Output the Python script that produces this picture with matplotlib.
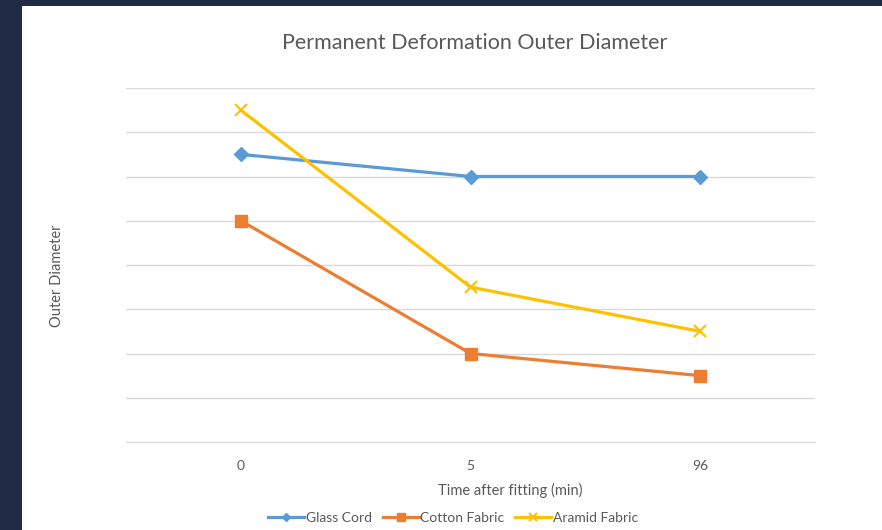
import matplotlib.pyplot as plt
from matplotlib.patches import Rectangle

plt.rcParams['font.family'] = ['Lato', 'DejaVu Sans']

time_labels = ['0', '5', '96']
glass_cord = [6.5, 6.0, 6.0]
cotton_fabric = [5.0, 2.0, 1.5]
aramid_fabric = [7.5, 3.5, 2.5]

TEXT = '#595959'
GRID = '#D9D9D9'

fig = plt.figure(figsize=(8.82, 5.30), dpi=100)
fig.patch.set_facecolor('#1F2A44')
# white chart area (dark frame on left and top)
fig.patches.append(Rectangle((22/882, 0), 1 - 22/882, 1 - 6/530,
                             transform=fig.transFigure, facecolor='white',
                             edgecolor='none', zorder=-10))

ax = fig.add_axes([126/882, 88/530, (815-126)/882, (442-88)/530])
ax.patch.set_alpha(0)
x = range(len(time_labels))
ax.plot(x, glass_cord, color='#5B9BD5', lw=2.3, marker='D', ms=7, label='Glass Cord')
ax.plot(x, cotton_fabric, color='#ED7D31', lw=2.3, marker='s', ms=9, label='Cotton Fabric')
ax.plot(x, aramid_fabric, color='#FFC000', lw=2.3, marker='x', ms=9, mew=1.5, label='Aramid Fabric')

ax.set_xlim(-0.5, 2.5)
ax.set_ylim(0, 8)
ax.set_yticks(range(0, 9))
ax.set_yticklabels([])
ax.set_xticks(list(x))
ax.set_xticklabels(time_labels, color=TEXT, fontsize=10)
ax.tick_params(length=0, pad=13)
ax.grid(axis='y', color=GRID, lw=1)
ax.set_axisbelow(True)
for s in ['top', 'right', 'left']:
    ax.spines[s].set_visible(False)
ax.spines['bottom'].set_color(GRID)

fig.text(475/882, 1 - 43/530, 'Permanent Deformation Outer Diameter',
         ha='center', va='center', fontsize=15.5, color=TEXT)
fig.text(510/882, 1 - 490/530, 'Time after fitting (min)',
         ha='center', va='center', fontsize=10.5, color=TEXT)
fig.text(57/882, 1 - 276/530, 'Outer Diameter', rotation=90,
         ha='center', va='center', fontsize=10.5, color=TEXT)

leg = fig.legend(loc='center', bbox_to_anchor=(453/882, 1 - 518/530), ncol=3,
                 frameon=False, fontsize=10, handlelength=2.6, handletextpad=0.1,
                 columnspacing=0.8, labelcolor=TEXT, markerscale=0.65)

fig.savefig('out.png', dpi=100, facecolor=fig.get_facecolor())
